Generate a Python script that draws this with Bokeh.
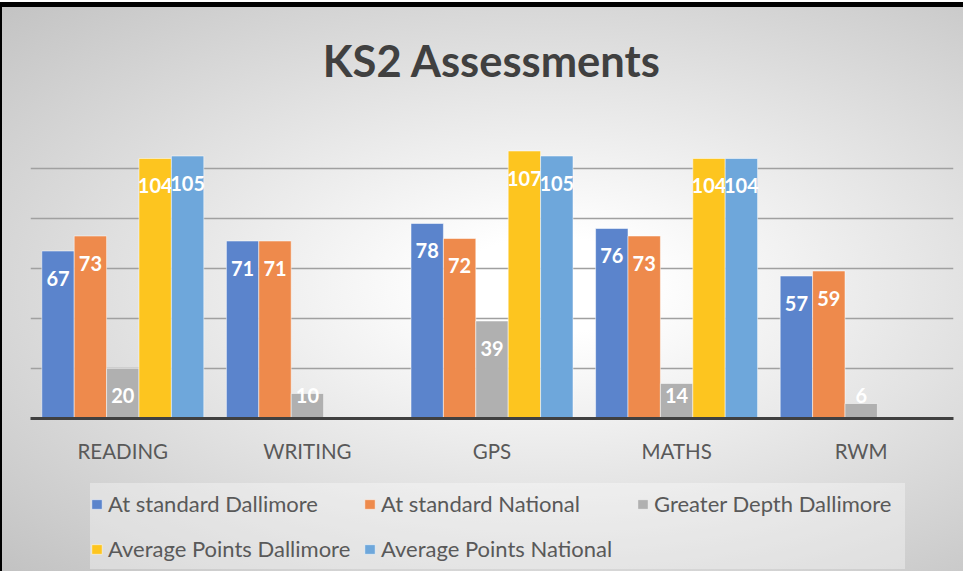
import numpy as np
from bokeh.plotting import figure
from bokeh.layouts import column
from bokeh.models import ColumnDataSource, FactorRange, FixedTicker, Legend, LegendItem
from bokeh.transform import dodge
from bokeh.core.properties import value
from bokeh.embed import file_html
from bokeh.resources import INLINE

categories = ["READING", "WRITING", "GPS", "MATHS", "RWM"]
series_names = ["At standard Dallimore", "At standard National", "Greater Depth Dallimore",
                "Average Points Dallimore", "Average Points National"]
at_standard_dallimore = [67, 71, 78, 76, 57]
at_standard_national = [73, 71, 72, 73, 59]
greater_depth_dallimore = [20, 10, 39, 14, 6]
average_points_dallimore = [104, np.nan, 107, 104, np.nan]
average_points_national = [105, np.nan, 105, 104, np.nan]
series_values = [at_standard_dallimore, at_standard_national, greater_depth_dallimore,
                 average_points_dallimore, average_points_national]
colors = ["#5b84cc", "#ee8a4c", "#b0b0b0", "#fdc51f", "#6ea7db"]
grid_ticks = [20, 40, 60, 80, 100, 120]

FONT = value("Lato")

data = {"cat": categories}
for i, vals in enumerate(series_values):
    arr = np.array(vals, dtype=float)
    data[f"v{i}"] = arr
    data[f"ly{i}"] = np.where(np.isnan(arr), np.nan, np.maximum(arr - 10.8, 9.2))
    data[f"t{i}"] = ["" if np.isnan(v) else str(int(v)) for v in arr]
src = ColumnDataSource(data)

# ---- main chart ----
p = figure(x_range=FactorRange(factors=categories), y_range=(0, 120),
           width=963, height=481, output_backend="svg", toolbar_location=None,
           min_border_left=30, min_border_right=10, min_border_top=118, min_border_bottom=63)
p.border_fill_color = None
p.background_fill_color = None
p.outline_line_color = None

p.title.text = "KS2 Assessments"
p.title.align = "center"
p.title.vertical_align = "top"
p.title.text_font = "Lato"
p.title.text_font_size = "43.5px"
p.title.text_font_style = "bold"
p.title.text_color = "#404040"
p.title.standoff = 61

width = 0.1755
offsets = [-2 * width, -width, 0, width, 2 * width]
for i in range(5):
    p.vbar(x=dodge("cat", offsets[i], range=p.x_range), top=f"v{i}", width=width,
           source=src, fill_color=colors[i], line_color="#ffffff", line_alpha=0.5, line_width=1)
    p.text(x=dodge("cat", offsets[i], range=p.x_range), y=f"ly{i}", text=f"t{i}", source=src,
           text_color="white", text_font=FONT, text_font_style="bold", text_font_size="20px",
           text_align="center", text_baseline="middle")

p.yaxis.visible = False
p.ygrid.ticker = FixedTicker(ticks=grid_ticks)
p.ygrid.grid_line_color = "#a0a0a0"
p.ygrid.grid_line_width = 1.5
p.xgrid.grid_line_color = None

xa = p.xaxis[0]
xa.axis_line_color = "#404040"
xa.axis_line_width = 3
xa.major_tick_line_color = None
xa.minor_tick_line_color = None
xa.major_label_text_font = "Lato"
xa.major_label_text_font_size = "20.5px"
xa.major_label_text_color = "#595959"
xa.major_label_standoff = 14

# ---- legend strip ----
q = figure(x_range=(0, 1), y_range=(0, 1), width=963, height=90, output_backend="svg",
           toolbar_location=None, x_axis_type=None, y_axis_type=None,
           min_border_left=0, min_border_right=0, min_border_top=0, min_border_bottom=0)
q.border_fill_color = None
q.background_fill_color = None
q.outline_line_color = None
q.grid.visible = False

items = []
for i in range(5):
    r = q.vbar(x=[0.5], top=[np.nan], width=0.1, fill_color=colors[i],
               line_color="#ffffff", line_alpha=0.5, line_width=1)
    items.append(LegendItem(label=series_names[i], renderers=[r]))

legend = Legend(items=items, orientation="horizontal", ncols=3, location=(60, 2))
legend.label_text_font = "Lato"
legend.label_text_font_size = "22px"
legend.label_text_color = "#595959"
legend.glyph_width = 13
legend.glyph_height = 12
legend.label_height = 41
legend.label_width = 251
legend.label_standoff = 5
legend.spacing = 4
legend.padding = 9
legend.margin = 0
legend.background_fill_color = "#ffffff"
legend.background_fill_alpha = 0.35
legend.border_line_color = None
q.add_layout(legend, "center")

page = column(p, q, spacing=0)
page.styles = {
    "background": ("linear-gradient(#000,#000) 0 2px / 100% 5px no-repeat, "
                   "linear-gradient(#000,#000) 0 2px / 2px 100% no-repeat, "
                   "linear-gradient(#fff,#fff) 0 0 / 100% 2px no-repeat, "
                   "radial-gradient(ellipse farthest-corner at 57% 50%, #ffffff 0%, #ffffff 12%, #c2c2c2 100%)")
}

open("out.html", "w").write(file_html(page, INLINE))
